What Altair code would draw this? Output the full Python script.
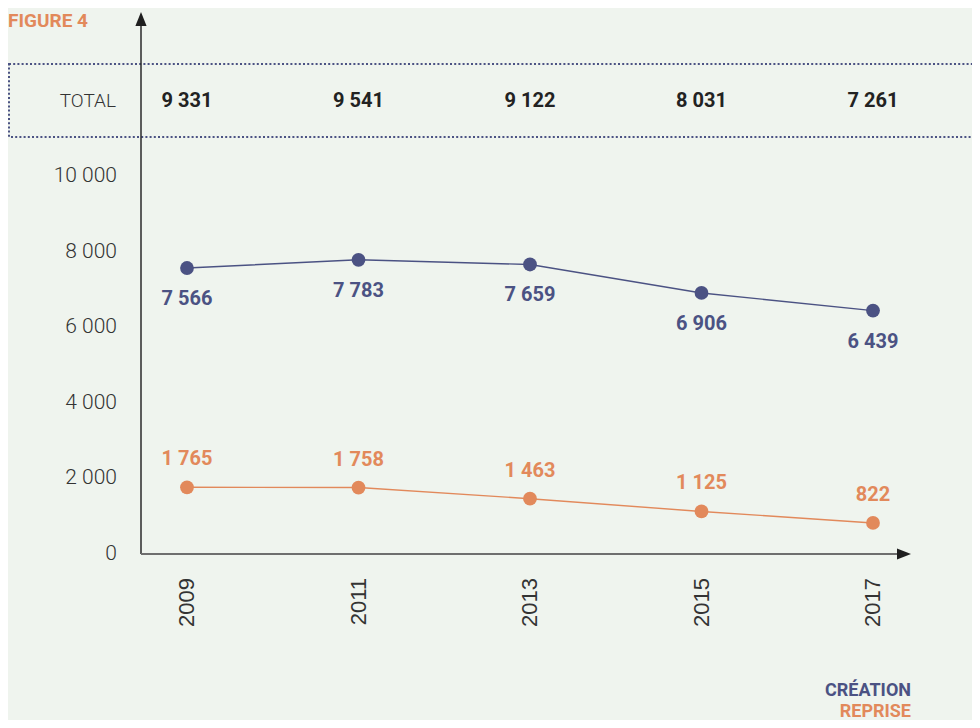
import altair as alt
import pandas as pd

# ---------------- data ----------------
years = [2009, 2011, 2013, 2015, 2017]
creation = [7566, 7783, 7659, 6906, 6439]
reprise = [1765, 1758, 1463, 1125, 822]
totals = [9331, 9541, 9122, 8031, 7261]
y_ticks = [0, 2000, 4000, 6000, 8000, 10000]
legend_labels = ["CRÉATION", "REPRISE"]


def fr(n):
    return f"{n:,}".replace(",", " ")


NAVY = "#4b5283"
ORANGE = "#e2895b"
BG = "#eff4ee"
DARK = "#222222"

# ---------------- frame ----------------
W, H = 964, 712
X0_PX, X1_PX = 179, 865      # pixel of 2009 and 2017
Y0_PX, Y1_PX = 546, 168      # pixel of 0 and 10000
xpx = (X1_PX - X0_PX) / (2017 - 2009)
ypx = (Y0_PX - Y1_PX) / 10000
x_dom = [2009 - X0_PX / xpx, 2009 + (W - X0_PX) / xpx]
y_dom = [-(H - Y0_PX) / ypx, Y0_PX / ypx]

xs = alt.Scale(domain=x_dom, nice=False, zero=False)
ys = alt.Scale(domain=y_dom, nice=False, zero=False)


def X(f):
    return alt.X(f, type="quantitative", scale=xs, axis=None)


def Y(f):
    return alt.Y(f, type="quantitative", scale=ys, axis=None)


AXIS_X = 2009 - (X0_PX - 133) / xpx        # where the vertical axis sits
ARROW_X = 2009 + (896 - X0_PX) / xpx       # centre of right arrow
ARROW_Y = (Y0_PX - 11) / ypx               # centre of up arrow
TOTAL_Y = (Y0_PX - 93) / ypx               # totals row

cre = pd.DataFrame({"year": years, "v": creation, "lab": [fr(v) for v in creation]})
rep = pd.DataFrame({"year": years, "v": reprise, "lab": [fr(v) for v in reprise]})
tot = pd.DataFrame({"year": years, "v": [TOTAL_Y] * len(years), "lab": [fr(v) for v in totals]})
yt = pd.DataFrame({"v": y_ticks, "lab": [fr(v) for v in y_ticks]})
yrs = pd.DataFrame({"year": years, "lab": [str(y) for y in years]})

# ---------------- decorations ----------------
box = alt.Chart(pd.DataFrame({"a": [0]})).mark_rect(
    fillOpacity=0, stroke=NAVY, strokeWidth=2, strokeDash=[2, 2.2]
).encode(x=alt.value(1), x2=alt.value(985), y=alt.value(56), y2=alt.value(129))

vaxis = alt.Chart(pd.DataFrame({"x": [AXIS_X], "y": [0], "y2": [ARROW_Y]})).mark_rule(
    color="#2a2a2a", strokeWidth=1.5
).encode(x=X("x"), y=Y("y"), y2="y2")
haxis = alt.Chart(pd.DataFrame({"x": [AXIS_X], "x2": [ARROW_X], "y": [0]})).mark_rule(
    color="#6e6e6e", strokeWidth=2
).encode(x=X("x"), x2="x2", y=Y("y"))
up_arrow = alt.Chart(pd.DataFrame({"x": [AXIS_X], "y": [ARROW_Y]})).mark_point(
    shape="M0,-1L0.8,1L-0.8,1Z", filled=True, size=196, color="#1f1f1f", opacity=1
).encode(x=X("x"), y=Y("y"))
right_arrow = alt.Chart(pd.DataFrame({"x": [ARROW_X], "y": [0]})).mark_point(
    shape="M1,0L-1,0.8L-1,-0.8Z", filled=True, size=196, color="#1f1f1f", opacity=1
).encode(x=X("x"), y=Y("y"))

ylabels = alt.Chart(yt).mark_text(
    align="right", baseline="middle", font="Roboto", fontWeight=300, fontSize=21, color="#333333"
).encode(x=alt.value(109), y=Y("v"), text="lab:N")

xlabels = alt.Chart(yrs).mark_text(
    align="right", baseline="middle", angle=270, font="Liberation Sans", fontSize=22, color="#333333"
).encode(x=X("year"), y=alt.value(570), text="lab:N")

title = alt.Chart(pd.DataFrame({"t": ["FIGURE 4"]})).mark_text(
    align="left", baseline="alphabetic", font="Roboto", fontWeight="bold", fontSize=19, color=ORANGE
).encode(x=alt.value(0), y=alt.value(19), text="t:N")

total_lab = alt.Chart(pd.DataFrame({"t": ["TOTAL"]})).mark_text(
    align="right", baseline="middle", font="Roboto", fontWeight=300, fontSize=19, color="#333333"
).encode(x=alt.value(108), y=alt.value(93), text="t:N")

total_vals = alt.Chart(tot).mark_text(
    align="center", baseline="middle", font="Roboto", fontWeight="bold", fontSize=20, color=DARK
).encode(x=X("year"), y=Y("v"), text="lab:N")

# ---------------- series ----------------
cre_line = alt.Chart(cre).mark_line(color=NAVY, strokeWidth=1.4).encode(x=X("year"), y=Y("v"))
cre_pts = alt.Chart(cre).mark_circle(color=NAVY, size=190, opacity=1).encode(x=X("year"), y=Y("v"))
cre_txt = alt.Chart(cre).mark_text(
    dy=31, align="center", baseline="middle", font="Roboto", fontWeight="bold", fontSize=20, color=NAVY
).encode(x=X("year"), y=Y("v"), text="lab:N")

rep_line = alt.Chart(rep).mark_line(color=ORANGE, strokeWidth=1.4).encode(x=X("year"), y=Y("v"))
rep_pts = alt.Chart(rep).mark_circle(color=ORANGE, size=190, opacity=1).encode(x=X("year"), y=Y("v"))
rep_txt = alt.Chart(rep).mark_text(
    dy=-28, align="center", baseline="middle", font="Roboto", fontWeight="bold", fontSize=20, color=ORANGE
).encode(x=X("year"), y=Y("v"), text="lab:N")

legend_cre = alt.Chart(pd.DataFrame({"t": [legend_labels[0]]})).mark_text(
    align="right", baseline="middle", font="Roboto", fontWeight="bold", fontSize=18, color=NAVY
).encode(x=alt.value(903), y=alt.value(683), text="t:N")
legend_rep = alt.Chart(pd.DataFrame({"t": [legend_labels[1]]})).mark_text(
    align="right", baseline="middle", font="Roboto", fontWeight="bold", fontSize=18, color=ORANGE
).encode(x=alt.value(903), y=alt.value(704), text="t:N")

chart = alt.layer(
    box, vaxis, haxis, up_arrow, right_arrow, ylabels, xlabels, title, total_lab, total_vals,
    cre_line, cre_pts, cre_txt, rep_line, rep_pts, rep_txt, legend_cre, legend_rep
).properties(
    width=W, height=H, background=BG, padding=0,
    autosize=alt.AutoSizeParams(type="none")
).configure_view(stroke=None)

chart.save("out.html", embed_options={"renderer": "svg", "actions": False})
